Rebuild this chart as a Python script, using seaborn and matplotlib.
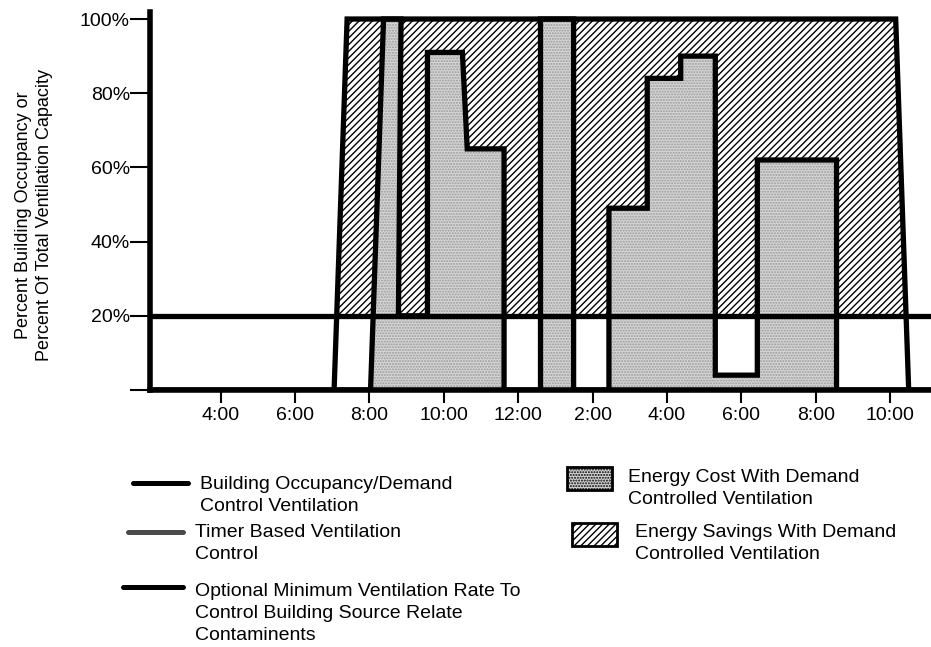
import numpy as np
import matplotlib.pyplot as plt
import seaborn as sns
from matplotlib.lines import Line2D
from matplotlib.patches import Rectangle

# hours of the day (24h clock) and percent of capacity
demand_hours = [2.1, 8.03, 8.38, 8.85, 8.78, 9.56, 9.56, 10.5, 10.63, 11.62, 11.62,
                12.6, 12.6, 13.49, 13.49, 14.44, 14.44, 15.47, 15.47, 16.37, 16.37,
                17.3, 17.3, 18.43, 18.43, 20.56, 20.56, 23.1]
demand_pct = [0, 0, 100, 100, 20, 20, 91, 91, 65, 65, 0,
              0, 100, 100, 0, 0, 49, 49, 84, 84, 90,
              90, 4, 4, 62, 62, 0, 0]

timer_hours = [7.05, 7.4, 22.15, 22.5]
timer_pct = [0, 100, 100, 0]

min_vent = 20

tick_hours = [4, 6, 8, 10, 12, 14, 16, 18, 20, 22]
tick_labels = ['4:00', '6:00', '8:00', '10:00', '12:00', '2:00', '4:00', '6:00', '8:00', '10:00']
ytick_vals = [0, 20, 40, 60, 80, 100]
ytick_labels = ['', '20%', '40%', '60%', '80%', '100%']

line_labels = ['Building Occupancy/Demand\nControl Ventilation',
               'Timer Based Ventilation\nControl',
               'Optional Minimum Ventilation Rate To\nControl Building Source Relate\nContaminents']
area_labels = ['Energy Cost With Demand\nControlled Ventilation',
               'Energy Savings With Demand\nControlled Ventilation']

sns.set_theme(style='white')
plt.rcParams['font.family'] = ['Liberation Sans', 'DejaVu Sans']
plt.rcParams['text.color'] = 'black'
plt.rcParams['axes.labelcolor'] = 'black'
plt.rcParams['hatch.linewidth'] = 1.0

W, H = 931, 647
fig = plt.figure(figsize=(W / 100, H / 100), dpi=100)
ax = fig.add_axes([150 / W, 257 / H, 781 / W, 378.4 / H])

STIPPLE = '#d6d6d6'
DOTS = '#9a9a9a'

# savings area: inside timer schedule, above minimum rate
with plt.rc_context({'hatch.color': 'black'}):
    t_x = np.array(timer_hours)
    t_y = np.array(timer_pct)
    ax.fill_between(t_x, min_vent, t_y, where=t_y >= min_vent, interpolate=True,
                    facecolor='white', edgecolor='black', linewidth=0, hatch='/////', zorder=1)

# cost area: under the demand curve
with plt.rc_context({'hatch.color': DOTS}):
    ax.fill_between(demand_hours, 0, demand_pct, facecolor=STIPPLE, edgecolor=DOTS,
                    linewidth=0, hatch='......', zorder=2)

sns.lineplot(x=timer_hours, y=timer_pct, sort=False, estimator=None, ax=ax,
             color='black', linewidth=3.8, solid_joinstyle='miter', zorder=4)
sns.lineplot(x=demand_hours, y=demand_pct, sort=False, estimator=None, ax=ax,
             color='black', linewidth=3.8, solid_joinstyle='miter', zorder=5)
ax.axhline(min_vent, color='black', linewidth=3.8, zorder=6)

ax.set_xlim(2.1, 23.1)
ax.set_ylim(0, 102)
ax.set_xticks(tick_hours)
ax.set_xticklabels(tick_labels)
ax.set_yticks(ytick_vals)
ax.set_yticklabels(ytick_labels)
ax.tick_params(axis='x', direction='out', length=9.5, width=1.5, pad=3, labelsize=14,
               colors='black', bottom=True)
ax.tick_params(axis='y', direction='out', length=14.5, width=1.5, pad=0, labelsize=14,
               colors='black', left=True)

for side in ['top', 'right']:
    ax.spines[side].set_visible(False)
for side in ['left', 'bottom']:
    ax.spines[side].set_linewidth(4)
    ax.spines[side].set_color('black')
    ax.spines[side].set_zorder(7)

ax.set_ylabel('Percent Building Occupancy or\nPercent Of Total Ventilation Capacity',
              fontsize=13, color='black', linespacing=1.35)
ax.yaxis.set_label_coords(-0.124, 0.4625)


def fx(px):
    return px / W


def fy(py):
    return 1 - py / H


# legend, left column: line swatches
line_rows = [(133, 188, 483, 200, 485, 'black'),
             (128, 183, 532, 195, 533, '#4a4a4a'),
             (123, 183, 587, 195, 592, 'black')]
for (x0, x1, ly, tx, ty, col), lab in zip(line_rows, line_labels):
    fig.add_artist(Line2D([fx(x0), fx(x1)], [fy(ly), fy(ly)], color=col, linewidth=3.6,
                          transform=fig.transFigure))
    fig.text(fx(tx), fy(ty - 9), lab, fontsize=14, va='top', ha='left', linespacing=1.4)

# legend, right column: area swatches
area_rows = [(567, 467, 628, 478, STIPPLE, DOTS, '......'),
             (572, 523, 635, 533, 'white', 'black', '/////')]
for (bx, by, tx, ty, fc, hc, hatch), lab in zip(area_rows, area_labels):
    with plt.rc_context({'hatch.color': hc}):
        fig.add_artist(Rectangle((fx(bx), fy(by + 23)), 45 / W, 23 / H, facecolor=fc,
                                 edgecolor='black', linewidth=2, hatch=hatch,
                                 transform=fig.transFigure))
    fig.text(fx(tx), fy(ty - 9), lab, fontsize=14, va='top', ha='left', linespacing=1.4)

fig.savefig('out.png', dpi=100)
